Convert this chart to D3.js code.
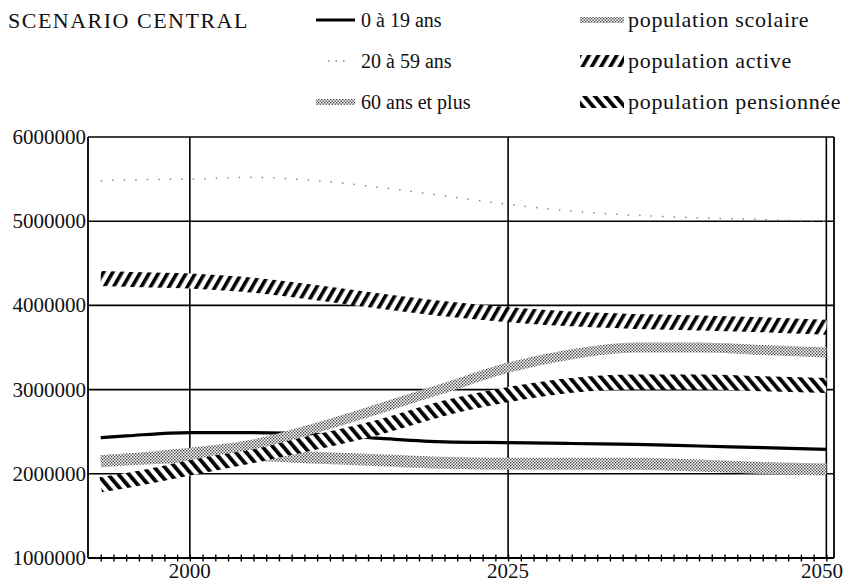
<!DOCTYPE html>
<html>
<head>
<meta charset="utf-8">
<script src="https://cdn.jsdelivr.net/npm/d3@7"></script>
<style>
	html, body { margin: 0; padding: 0; background: #fff; }
	svg { display: block; font-family: "Liberation Serif", "DejaVu Serif", serif; }
	.legend-text { font-size: 20px; fill: #111; }
	.legend-wide { font-size: 22px; letter-spacing: 0.7px; fill: #111; }
	.title-text { font-size: 22px; letter-spacing: 1.5px; fill: #111; }
	.tick-text { font-size: 21px; fill: #111; }
</style>
</head>
<body>
<svg id="chart" width="846" height="585"></svg>
<script>
/* global d3 */

const years = [1993, 1995, 2000, 2005, 2010, 2015, 2020, 2025, 2030, 2035, 2040, 2045, 2050];
const age0to19 = [2430000, 2450000, 2490000, 2490000, 2470000, 2420000, 2380000, 2370000, 2360000, 2350000, 2330000, 2310000, 2290000];
const age20to59 = [5480000, 5490000, 5500000, 5520000, 5480000, 5400000, 5300000, 5200000, 5120000, 5070000, 5040000, 5020000, 5000000];
const age60plus = [2160000, 2180000, 2250000, 2350000, 2550000, 2780000, 3020000, 3260000, 3420000, 3500000, 3500000, 3470000, 3440000];
const scolaire = [2150000, 2170000, 2200000, 2220000, 2190000, 2160000, 2130000, 2120000, 2120000, 2120000, 2100000, 2070000, 2050000];
const active = [4320000, 4310000, 4290000, 4240000, 4150000, 4050000, 3960000, 3890000, 3840000, 3810000, 3790000, 3770000, 3740000];
const pensionnee = [1870000, 1920000, 2070000, 2220000, 2380000, 2560000, 2780000, 2940000, 3050000, 3090000, 3090000, 3070000, 3050000];

const yTicks = [1000000, 2000000, 3000000, 4000000, 5000000, 6000000];
const xLabels = [2000, 2025, 2050];

const svg = d3.select("#chart");
const x = d3.scaleLinear().domain([1992, 2050.6]).range([88, 834]);
const y = d3.scaleLinear().domain([1000000, 6000000]).range([558, 137]);

function addPatterns() {
	const defs = svg.append("defs");

	// fine checker used by the grey bands
	const dots = defs.append("pattern").attr("id", "dots").attr("patternUnits", "userSpaceOnUse").attr("width", 3).attr("height", 3);
	dots.append("rect").attr("width", 3).attr("height", 3).attr("fill", "#fff");
	dots.append("rect").attr("width", 1.4).attr("height", 1.4).attr("fill", "#444");
	dots.append("rect").attr("x", 1.5).attr("y", 1.5).attr("width", 1.4).attr("height", 1.4).attr("fill", "#444");

	const slash = defs.append("pattern").attr("id", "slash").attr("patternUnits", "userSpaceOnUse").attr("width", 8).attr("height", 8).attr("patternTransform", "rotate(30)");
	slash.append("rect").attr("width", 8).attr("height", 8).attr("fill", "#fff");
	slash.append("rect").attr("width", 3.6).attr("height", 8).attr("fill", "#000");

	const backslash = defs.append("pattern").attr("id", "backslash").attr("patternUnits", "userSpaceOnUse").attr("width", 8).attr("height", 8).attr("patternTransform", "rotate(-40)");
	backslash.append("rect").attr("width", 8).attr("height", 8).attr("fill", "#fff");
	backslash.append("rect").attr("width", 3.8).attr("height", 8).attr("fill", "#000");
}

function drawFrame() {
	const [x0, x1] = x.range();
	const [y0, y1] = y.range();
	const g = svg.append("g").attr("stroke", "#000").attr("fill", "none");

	g.selectAll("line.h")
		.data(yTicks.slice(1))
		.join("line")
		.attr("x1", x0)
		.attr("x2", x1)
		.attr("y1", (d) => y(d))
		.attr("y2", (d) => y(d))
		.attr("stroke-width", 1.6);

	g.selectAll("line.v")
		.data(xLabels)
		.join("line")
		.attr("x1", (d) => x(d))
		.attr("x2", (d) => x(d))
		.attr("y1", y0)
		.attr("y2", y1)
		.attr("stroke-width", 1.6);

	g.append("line").attr("x1", x0).attr("x2", x0).attr("y1", y0).attr("y2", y1).attr("stroke-width", 1.8);
	g.append("line").attr("x1", x1).attr("x2", x1).attr("y1", y0).attr("y2", y1).attr("stroke-width", 1.8);

	// bottom axis with a cross tick every year
	const axis = d3.axisBottom(x).tickValues(d3.range(1993, 2051)).tickSize(0).tickFormat("");
	const ax = svg.append("g").attr("transform", `translate(0,${y0})`).call(axis);
	ax.select(".domain").attr("stroke-width", 2.2).attr("d", `M${x0},0H${x1}`);
	ax.selectAll(".tick line").attr("y1", -3.5).attr("y2", 3.5).attr("stroke-width", 1.4);

	svg.selectAll("text.ylab")
		.data(yTicks)
		.join("text")
		.attr("class", "tick-text")
		.attr("x", x0 - 2)
		.attr("y", (d) => y(d) + 7)
		.attr("text-anchor", "end")
		.text((d) => d3.format("d")(d));

	svg.selectAll("text.xlab")
		.data(xLabels)
		.join("text")
		.attr("class", "tick-text")
		.attr("x", (d) => (d === 2050 ? 843 : x(d)))
		.attr("y", y0 + 20)
		.attr("text-anchor", (d) => (d === 2050 ? "end" : "middle"))
		.text((d) => d);
}

function drawSeries() {
	const line = d3
		.line()
		.x((d, i) => x(years[i]))
		.y((d) => y(d))
		.curve(d3.curveMonotoneX);

	const g = svg.append("g").attr("fill", "none").attr("stroke-linecap", "butt");

	g.append("path").attr("d", line(age20to59)).attr("stroke", "#888").attr("stroke-width", 1.5).attr("stroke-dasharray", "1.5 10");
	g.append("path").attr("d", line(age0to19)).attr("stroke", "#000").attr("stroke-width", 3.2);
	g.append("path").attr("d", line(scolaire)).attr("stroke", "url(#dots)").attr("stroke-width", 12);
	g.append("path").attr("d", line(pensionnee)).attr("stroke", "url(#backslash)").attr("stroke-width", 15);
	g.append("path").attr("d", line(age60plus)).attr("stroke", "url(#dots)").attr("stroke-width", 10);
	g.append("path").attr("d", line(active)).attr("stroke", "url(#slash)").attr("stroke-width", 15);
}

function drawLegend() {
	svg.append("text").attr("class", "title-text").attr("x", 8).attr("y", 28).text("SCENARIO CENTRAL");

	const rows = [20, 61, 102];
	const left = [
		["line", "0 à 19 ans"],
		["faint", "20 à 59 ans"],
		["dots", "60 ans et plus"],
	];
	const right = [
		["dots", "population scolaire"],
		["slash", "population active"],
		["backslash", "population pensionnée"],
	];

	left.forEach(([kind, label], i) => {
		const cy = rows[i];
		if (kind === "line") {
			svg.append("line").attr("x1", 316).attr("x2", 355).attr("y1", cy).attr("y2", cy).attr("stroke", "#000").attr("stroke-width", 3);
		} else if (kind === "faint") {
			svg.append("line").attr("x1", 328).attr("x2", 346).attr("y1", cy).attr("y2", cy).attr("stroke", "#888").attr("stroke-width", 1.5).attr("stroke-dasharray", "1.5 6");
		} else {
			svg.append("rect").attr("x", 316).attr("y", cy - 3).attr("width", 39).attr("height", 6).attr("fill", "url(#dots)");
		}
		svg.append("text").attr("class", "legend-text").attr("x", 361).attr("y", cy + 7).text(label);
	});

	right.forEach(([kind, label], i) => {
		const cy = rows[i];
		const h = kind === "dots" ? 6 : 12;
		svg.append("rect").attr("x", 580).attr("y", cy - h / 2).attr("width", 44).attr("height", h).attr("fill", `url(#${kind})`);
		svg.append("text").attr("class", "legend-wide").attr("x", 628).attr("y", cy + 7).text(label);
	});
}

addPatterns();
drawFrame();
drawSeries();
drawLegend();
</script>
</body>
</html>
